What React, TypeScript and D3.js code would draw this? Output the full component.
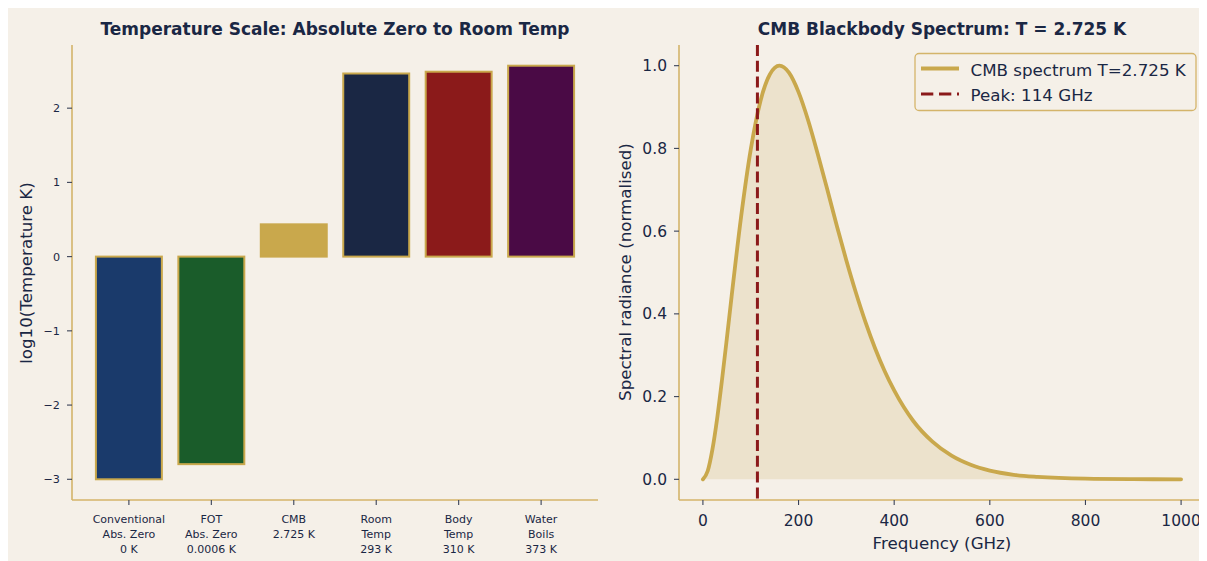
import React from "react";
import * as d3 from "d3";

// ---- Left panel data ----
const categories: string[][] = [
  ["Conventional", "Abs. Zero", "0 K"],
  ["FOT", "Abs. Zero", "0.0006 K"],
  ["CMB", "2.725 K"],
  ["Room", "Temp", "293 K"],
  ["Body", "Temp", "310 K"],
  ["Water", "Boils", "373 K"],
];
const logTemps = [-3.0, -2.796, 0.435, 2.467, 2.491, 2.572];
const barColors = ["#1a3a6b", "#1a5c2a", "#c9a84c", "#1a2744", "#8b1a1a", "#4a0a45"];
const leftTicks = [-3, -2, -1, 0, 1, 2];

// ---- Right panel data ----
const freqGHz = [0, 10, 20, 30, 40, 50, 60, 80, 100, 120, 140, 160, 180, 200, 220, 240, 260, 280, 300, 320, 340, 360, 380, 400, 440, 480, 520, 560, 600, 650, 700, 800, 900, 1000];
const radiance = [0, 0.02, 0.073, 0.149, 0.241, 0.34, 0.442, 0.636, 0.797, 0.913, 0.979, 1.0, 0.983, 0.936, 0.868, 0.787, 0.701, 0.613, 0.529, 0.451, 0.38, 0.317, 0.262, 0.215, 0.141, 0.091, 0.057, 0.035, 0.021, 0.011, 0.006, 0.0015, 0.0004, 0.0001];
const peakGHz = 114;
const freqTicks = [0, 200, 400, 600, 800, 1000];
const radTicks = [0, 0.2, 0.4, 0.6, 0.8, 1.0];

const BG = "#f5f0e8";
const GOLD = "#c9a84c";
const SPINE = "#d4b46a";
const TEXT = "#1a2744";
const TICK = "#3a4257";
const FONT = "DejaVu Sans";

export default function App() {
  // left scales
  const xL = d3.scaleLinear().domain([-0.69, 5.69]).range([72, 598]);
  const yL = d3.scaleLinear().domain([-3.279, 2.851]).range([500, 45]);
  const bw = xL(0.8) - xL(0);

  // right scales
  const xR = d3.scaleLinear().domain([-50, 1050]).range([679, 1205]);
  const yR = d3.scaleLinear().domain([-0.05, 1.05]).range([500, 45]);
  const pts: [number, number][] = freqGHz.map((f, i) => [f, radiance[i]]);
  const line = d3
    .line<[number, number]>()
    .x((d) => xR(d[0]))
    .y((d) => yR(d[1]))
    .curve(d3.curveMonotoneX);
  const area = d3
    .area<[number, number]>()
    .x((d) => xR(d[0]))
    .y0(yR(0))
    .y1((d) => yR(d[1]))
    .curve(d3.curveMonotoneX);

  return (
    <svg width={1199} height={553} style={{ display: "block" }} fontFamily={FONT}>
      <g transform="translate(-8,-8)">
        <rect x={8} y={8} width={1199} height={553} fill={BG} />

        {/* ---------- LEFT PANEL ---------- */}
        <text x={335} y={35} textAnchor="middle" fontSize={17} fontWeight="bold" fill={TEXT}>
          Temperature Scale: Absolute Zero to Room Temp
        </text>
        {logTemps.map((v, i) => (
          <rect
            key={i}
            x={xL(i) - bw / 2}
            y={Math.min(yL(v), yL(0))}
            width={bw}
            height={Math.abs(yL(v) - yL(0))}
            fill={barColors[i]}
            stroke={GOLD}
            strokeWidth={2}
          />
        ))}
        <line x1={72} x2={72} y1={45} y2={500} stroke={SPINE} strokeWidth={1.6} />
        <line x1={72} x2={598} y1={500} y2={500} stroke={SPINE} strokeWidth={1.6} />
        {leftTicks.map((t) => (
          <g key={t}>
            <line x1={67} x2={72} y1={yL(t)} y2={yL(t)} stroke={TICK} strokeWidth={1.1} />
            <text x={60} y={yL(t)} dy="0.35em" textAnchor="end" fontSize={11.2} fill={TEXT}>
              {t < 0 ? "\u2212" + Math.abs(t) : String(t)}
            </text>
          </g>
        ))}
        {categories.map((lines, i) => (
          <g key={i}>
            <line x1={xL(i)} x2={xL(i)} y1={500} y2={505} stroke={TICK} strokeWidth={1.1} />
            {lines.map((s, j) => (
              <text key={j} x={xL(i)} y={523.3 + j * 14.7} textAnchor="middle" fontSize={11} fill={TEXT}>
                {s}
              </text>
            ))}
          </g>
        ))}
        <text
          transform="translate(26,273) rotate(-90)"
          textAnchor="middle"
          dy="0.35em"
          fontSize={16.7}
          fill={TEXT}
        >
          log10(Temperature K)
        </text>

        {/* ---------- RIGHT PANEL ---------- */}
        <text x={942} y={35} textAnchor="middle" fontSize={17} fontWeight="bold" fill={TEXT}>
          CMB Blackbody Spectrum: T = 2.725 K
        </text>
        <path d={area(pts) || ""} fill={GOLD} fillOpacity={0.18} />
        <path d={line(pts) || ""} fill="none" stroke={GOLD} strokeWidth={3.8} strokeLinecap="round" />
        <line
          x1={xR(peakGHz)}
          x2={xR(peakGHz)}
          y1={45}
          y2={500}
          stroke="#8b1a1a"
          strokeWidth={3}
          strokeDasharray="11 4.8"
        />
        <line x1={679} x2={679} y1={45} y2={500} stroke={SPINE} strokeWidth={1.6} />
        <line x1={679} x2={1207} y1={500} y2={500} stroke={SPINE} strokeWidth={1.6} />
        {radTicks.map((t) => (
          <g key={t}>
            <line x1={674} x2={679} y1={yR(t)} y2={yR(t)} stroke={TICK} strokeWidth={1.1} />
            <text x={667} y={yR(t)} dy="0.35em" textAnchor="end" fontSize={15.5} fill={TEXT}>
              {t.toFixed(1)}
            </text>
          </g>
        ))}
        {freqTicks.map((t) => (
          <g key={t}>
            <line x1={xR(t)} x2={xR(t)} y1={500} y2={505} stroke={TICK} strokeWidth={1.1} />
            <text x={xR(t)} y={526} textAnchor="middle" fontSize={15.5} fill={TEXT}>
              {t}
            </text>
          </g>
        ))}
        <text x={942} y={549} textAnchor="middle" fontSize={16.7} fill={TEXT}>
          Frequency (GHz)
        </text>
        <text
          transform="translate(625,272) rotate(-90)"
          textAnchor="middle"
          dy="0.35em"
          fontSize={16.7}
          fill={TEXT}
        >
          Spectral radiance (normalised)
        </text>

        {/* legend */}
        <rect x={915} y={53.5} width={281} height={57} rx={4} fill={BG} fillOpacity={0.85} stroke={SPINE} strokeWidth={1.3} />
        <line x1={921} x2={959} y1={68.5} y2={68.5} stroke={GOLD} strokeWidth={3.8} />
        <text x={970.5} y={75.5} fontSize={16.7} fill={TEXT}>
          CMB spectrum T=2.725 K
        </text>
        <line x1={921} x2={959} y1={94} y2={94} stroke="#8b1a1a" strokeWidth={3} strokeDasharray="12.3 5.7" />
        <text x={970.5} y={100.5} fontSize={16.7} fill={TEXT}>
          Peak: 114 GHz
        </text>
      </g>
    </svg>
  );
}
